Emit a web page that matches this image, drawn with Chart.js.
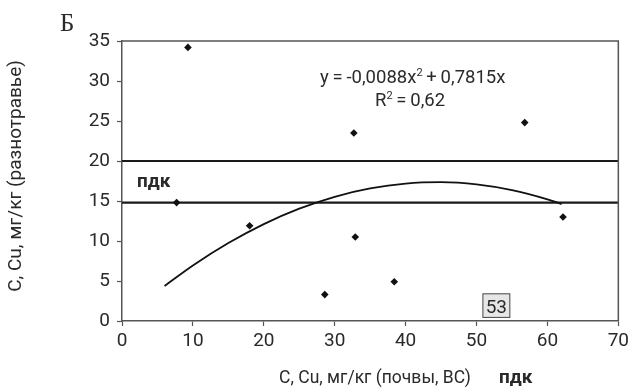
<!DOCTYPE html>
<html>
<head>
<meta charset="utf-8">
<script src="https://cdn.jsdelivr.net/npm/chart.js@4.4.0/dist/chart.umd.min.js"></script>
<style>
  html, body { margin: 0; padding: 0; background: #fff; }
  #wrap { width: 633px; height: 387px; }
</style>
</head>
<body>
<div id="wrap"><canvas id="myChart" width="633" height="387"></canvas></div>
<script>
// measured points (soil vs herbs)
const soilX = [7.7, 9.3, 18.0, 28.6, 32.7, 32.9, 38.4, 56.8, 62.2];
const herbY = [14.8, 34.2, 11.9, 3.3, 23.5, 10.5, 4.9, 24.8, 13.0];
// polynomial trendline as drawn on the figure
const trendX = [6, 10, 15, 20, 25, 30, 35, 40, 45, 50, 55, 60, 62];
const trendY = [4.37, 6.94, 9.74, 12.11, 14.04, 15.53, 16.57, 17.18, 17.35, 17.08, 16.36, 15.21, 14.62];
// limit lines (ПДК)
const limitX = [0, 70];
const limitHigh = [20, 20];
const limitLow = [14.8, 14.8];
const xTicks = [0, 10, 20, 30, 40, 50, 60, 70];
const yTicks = [0, 5, 10, 15, 20, 25, 30, 35];

const fontMain = "Roboto, 'Liberation Sans', Arial, sans-serif";
const textColor = '#2a2a2a';
const thin = '\u2009';

function pairs(xs, ys) {
    var out = [];
    for (var i = 0; i < xs.length; i++) out.push({ x: xs[i], y: ys[i] });
    return out;
}

// draws text with a superscript "2" in the middle
function supText(c, before, after, x, y, size) {
    c.font = size + "px " + fontMain;
    c.fillText(before, x, y);
    var w = c.measureText(before).width;
    c.font = Math.round(size * 0.6) + "px " + fontMain;
    c.fillText('2', x + w, y - size * 0.38);
    var w2 = c.measureText('2').width;
    c.font = size + "px " + fontMain;
    c.fillText(after, x + w + w2, y);
}

const labelsPlugin = {
    id: 'labels',
    afterDraw(chart) {
        const c = chart.ctx;
        const a = chart.chartArea;
        const xs = chart.scales.x, ys = chart.scales.y;
        c.save();
        // frame
        c.strokeStyle = '#555';
        c.lineWidth = 1.5;
        c.beginPath();
        c.moveTo(a.left, a.top); c.lineTo(a.right, a.top); c.lineTo(a.right, a.bottom);
        c.stroke();

        c.fillStyle = textColor;
        c.textBaseline = 'alphabetic';
        c.textAlign = 'left';
        // panel letter
        c.font = "25px 'Liberation Serif', 'DejaVu Serif', serif";
        c.fillText('Б', 60, 31);

        // equation
        supText(c, 'y' + thin + '=' + thin + '-0,0088x', thin + '+' + thin + '0,7815x', 320, 83, 18.5);
        supText(c, 'R', thin + '=' + thin + '0,62', 375, 106, 18.5);

        // ПДК labels
        c.font = "bold 19px " + fontMain;
        c.fillText('пдк', 137, 187);
        c.fillText('пдк', 499, 383);

        // axis titles
        c.font = "17.5px " + fontMain;
        c.textAlign = 'center';
        c.fillText('C, Cu, мг/кг (почвы, ВС)', 375, 383);
        c.save();
        c.translate(21, 176);
        c.rotate(-Math.PI / 2);
        c.font = "19px " + fontMain;
        c.fillText('C, Cu, мг/кг (разнотравье)', 0, 0);
        c.restore();

        // box with sample number
        var bx = xs.getPixelForValue(50.9), by = ys.getPixelForValue(3.4);
        var bw = xs.getPixelForValue(54.7) - bx, bh = ys.getPixelForValue(0.45) - by;
        c.fillStyle = '#e6e6e6';
        c.fillRect(bx, by, bw, bh);
        c.strokeStyle = '#444';
        c.lineWidth = 1;
        c.strokeRect(bx, by, bw, bh);
        c.fillStyle = textColor;
        c.font = "19px " + fontMain;
        c.textAlign = 'center';
        c.fillText('53', bx + bw / 2, by + bh - 4);
        c.restore();
    }
};

const ctx = document.getElementById('myChart');
new Chart(ctx, {
    type: 'scatter',
    data: {
        datasets: [{
            label: 'points',
            data: pairs(soilX, herbY),
            pointStyle: 'rectRot',
            pointRadius: 3.8,
            backgroundColor: '#111',
            borderColor: '#111',
            borderWidth: 0
        }, {
            label: 'trend',
            type: 'line',
            data: pairs(trendX, trendY),
            borderColor: '#111',
            borderWidth: 1.8,
            pointRadius: 0,
            fill: false,
            cubicInterpolationMode: 'monotone'
        }, {
            label: 'pdk20',
            type: 'line',
            data: pairs(limitX, limitHigh),
            borderColor: '#1a1a1a',
            borderWidth: 2.2,
            pointRadius: 0,
            fill: false
        }, {
            label: 'pdk15',
            type: 'line',
            data: pairs(limitX, limitLow),
            borderColor: '#1a1a1a',
            borderWidth: 2.2,
            pointRadius: 0,
            fill: false
        }]
    },
    options: {
        responsive: false,
        animation: false,
        layout: { padding: { left: 0, top: 41, right: 12, bottom: 0 } },
        plugins: {
            legend: { display: false },
            tooltip: { enabled: false }
        },
        scales: {
            x: {
                type: 'linear',
                min: 0, max: 70,
                afterBuildTicks: function (s) { s.ticks = xTicks.map(function (v) { return { value: v }; }); },
                afterFit: function (s) { s.height = 66; },
                grid: { drawOnChartArea: false, color: '#555', tickLength: 5, tickWidth: 1.2 },
                border: { color: '#555', width: 1.5 },
                ticks: { color: textColor, padding: 4, font: { family: fontMain, size: 19 } }
            },
            y: {
                type: 'linear',
                min: 0, max: 35,
                afterBuildTicks: function (s) { s.ticks = yTicks.map(function (v) { return { value: v }; }); },
                afterFit: function (s) { s.width = 122; },
                grid: { drawOnChartArea: false, color: '#555', tickLength: 5, tickWidth: 1.2 },
                border: { color: '#555', width: 1.5 },
                ticks: { color: textColor, padding: 7, font: { family: fontMain, size: 19 } }
            }
        }
    },
    plugins: [labelsPlugin]
});
</script>
</body>
</html>
